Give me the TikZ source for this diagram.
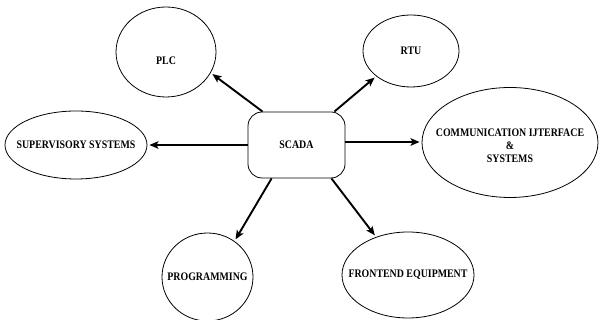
\documentclass[tikz,border=0pt]{standalone}
\usepackage{fontspec}
\setmainfont[FakeStretch=0.86]{Liberation Serif}
\usetikzlibrary{shapes.geometric,arrows.meta}

\tikzset{
  part/.style={draw, ellipse, inner sep=0pt, line width=0.8pt},
  tag/.style={font=\fontsize{11.5}{13}\selectfont\bfseries, align=center},
  hub/.style={draw, rectangle, rounded corners=14pt, line width=0.8pt,
    minimum width=97pt, minimum height=66pt, tag},
  link/.style={-{Stealth[length=9pt,width=7.5pt,inset=2pt]}, line width=1.9pt,
    shorten >=2pt}
}

\begin{document}
\begin{tikzpicture}[x=1pt, y=1pt]

    \useasboundingbox (0,0) rectangle (600,320);

    % centre box
    \node[hub] (scada) at (296.5,175) {SCADA};

    % surrounding parts
    \node[part, minimum width=100pt, minimum height=90pt,
      label={[tag, yshift=-9pt]center:PLC}] (plc) at (166,268) {};
    \node[part, minimum width=96pt, minimum height=72pt,
      label={[tag]center:RTU}] (rtu) at (411,269) {};
    \node[part, minimum width=142pt, minimum height=68pt,
      label={[tag]center:SUPERVISORY SYSTEMS}] (sup) at (76,175) {};
    \node[part, minimum width=176pt, minimum height=110pt,
      label={[tag, yshift=-3pt]center:COMMUNICATION IJTERFACE\\\&\\SYSTEMS}] (comm) at (510,177.5) {};
    \node[part, minimum width=91pt, minimum height=88pt,
      label={[tag]center:PROGRAMMING}] (prog) at (207.5,43) {};
    \node[part, minimum width=132pt, minimum height=86pt,
      label={[tag]center:FRONTEND EQUIPMENT}] (front) at (408,45) {};

    % arrows out of the centre box
    \draw[link] ([xshift=15pt]scada.north west) -- (plc.-25);
    \draw[link] ([xshift=-11pt]scada.north east) -- (rtu.216);
    \draw[link] (scada.west) -- (sup.east);
    \draw[link] ([yshift=3pt]scada.east) -- ([yshift=3pt]scada.east -| comm.west);
    \draw[link] ([xshift=24pt]scada.south west) -- (prog.53);
    \draw[link] ([xshift=-14pt]scada.south east) -- (front.130);
  \end{tikzpicture}
\end{document}
